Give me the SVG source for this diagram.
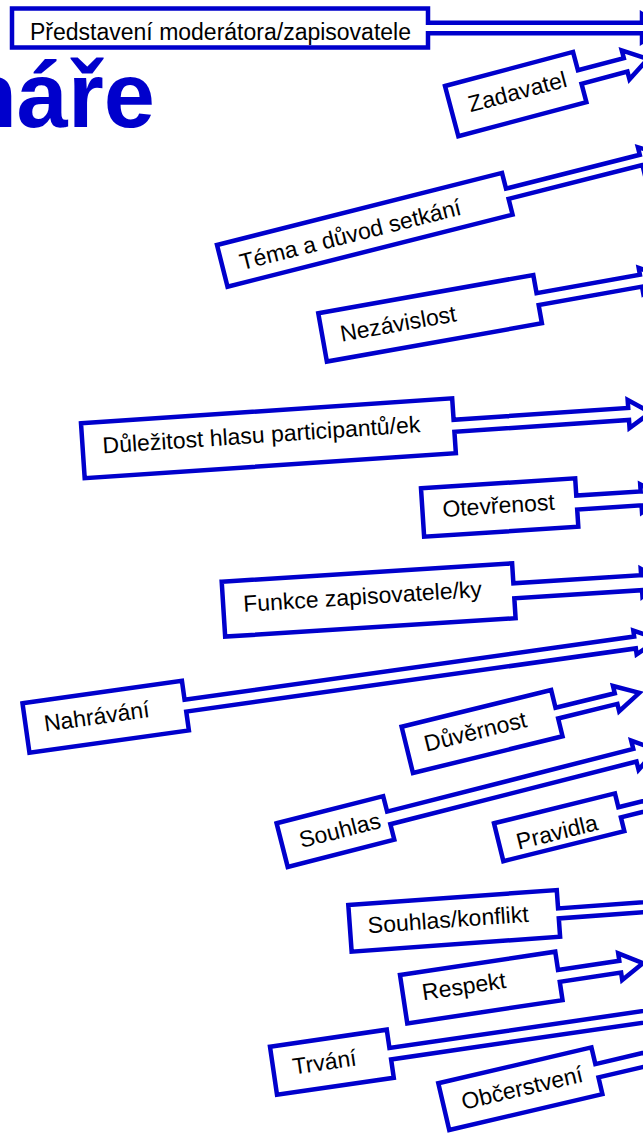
<svg xmlns="http://www.w3.org/2000/svg" width="643" height="1133" viewBox="0 0 643 1133">
<style>
.co{fill:#fff;stroke:#0000CC;stroke-width:4.5;stroke-linejoin:miter}
.lb{font-family:"Liberation Sans",Arial,sans-serif;font-size:23px;fill:#000}
.title{font-family:"Liberation Sans",Arial,sans-serif;font-weight:bold;font-size:92px;fill:#0000CC}
</style>
<rect width="643" height="1133" fill="#fff"/>
<text class="title" x="155" y="127" text-anchor="end">náře</text>

<g id="n-predstaveni" transform="translate(12,8.5)">
<polygon class="co" points="0,0 416,0 416,14.25 630,14.25 630,5.5 652,19.5 630,33.5 630,24.75 416,24.75 416,39 0,39"/>
<text class="lb" x="18" y="31.5">Představení moderátora/zapisovatele</text>
</g>
<g id="n-zadavatel" transform="translate(445,86) rotate(-14.9)">
<polygon class="co" points="0,0 132.5,0 132.5,19 180,19 180,11 203,26 180,41 180,33 132.5,33 132.5,52 0,52"/>
<text class="lb" x="18" y="32">Zadavatel</text>
</g>
<g id="n-tema" transform="translate(217,245) rotate(-14.2)">
<polygon class="co" points="0,0 294,0 294,16.25 432,16.25 432,8.5 454,21.5 432,34.5 432,26.75 294,26.75 294,43 0,43"/>
<text class="lb" x="18" y="30.5">Téma a důvod setkání</text>
</g>
<g id="n-nezavislost" transform="translate(318.3,313.3) rotate(-10.1)">
<polygon class="co" points="0,0 218.4,0 218.4,18.5 323.4,18.5 323.4,11.5 345.4,24.5 323.4,37.5 323.4,30.5 218.4,30.5 218.4,49 0,49"/>
<text class="lb" x="18" y="32">Nezávislost</text>
</g>
<g id="n-dulezitost" transform="translate(81,423.3) rotate(-3.85)">
<polygon class="co" points="0,0 372,0 372,21.5 547,21.5 547,13.5 569,27.5 547,41.5 547,33.5 372,33.5 372,55 0,55"/>
<text class="lb" x="20" y="31.5">Důležitost hlasu participantů/ek</text>
</g>
<g id="n-otevrenost" transform="translate(421,488.3) rotate(-3.7)">
<polygon class="co" points="0,0 154.5,0 154.5,17.25 219,17.25 219,10.25 241,24.25 219,38.25 219,31.25 154.5,31.25 154.5,48.5 0,48.5"/>
<text class="lb" x="20" y="30">Otevřenost</text>
</g>
<g id="n-funkce" transform="translate(221.7,581.7) rotate(-3.62)">
<polygon class="co" points="0,0 291,0 291,20 419,20 419,13.5 441,27.5 419,41.5 419,35 291,35 291,55 0,55"/>
<text class="lb" x="20" y="31.5">Funkce zapisovatele/ky</text>
</g>
<g id="n-nahravani" transform="translate(22.5,703.3) rotate(-8)">
<polygon class="co" points="0,0 161,0 161,19 615,19 615,13 639,25 615,37 615,31 161,31 161,50 0,50"/>
<text class="lb" x="18.5" y="31.2">Nahrávání</text>
</g>
<g id="n-duvernost" transform="translate(401.6,726.7) rotate(-13.8)">
<polygon class="co" points="0,0 154,0 154,18.35 215,18.35 215,10.85 239,23.85 215,36.85 215,29.35 154,29.35 154,47.7 0,47.7"/>
<text class="lb" x="18" y="30.2">Důvěrnost</text>
</g>
<g id="n-souhlas" transform="translate(276.6,823.3) rotate(-14.3)">
<polygon class="co" points="0,0 110,0 110,16 364,16 364,7.5 386,22.5 364,37.5 364,29 110,29 110,45 0,45"/>
<text class="lb" x="18" y="30.2">Souhlas</text>
</g>
<g id="n-pravidla" transform="translate(494,823.3) rotate(-13.9)">
<polygon class="co" points="0,0 124.6,0 124.6,14.25 224.6,14.25 224.6,5.5 246.6,19.5 224.6,33.5 224.6,24.75 124.6,24.75 124.6,39 0,39"/>
<text class="lb" x="17.5" y="31.5">Pravidla</text>
</g>
<g id="n-souhlas-konflikt" transform="translate(348.3,905) rotate(-4.1)">
<polygon class="co" points="0,0 209,0 209,18.4 359,18.4 359,9.4 381,23.4 359,37.4 359,28.4 209,28.4 209,46.8 0,46.8"/>
<text class="lb" x="18" y="29.6">Souhlas/konflikt</text>
</g>
<g id="n-respekt" transform="translate(400,975) rotate(-8.55)">
<polygon class="co" points="0,0 157,0 157,18.5 219,18.5 219,11 242,24.5 219,38 219,30.5 157,30.5 157,49 0,49"/>
<text class="lb" x="19.3" y="28.5">Respekt</text>
</g>
<g id="n-trvani" transform="translate(270,1046.7) rotate(-8.3)">
<polygon class="co" points="0,0 118,0 118,18.55 418,18.55 418,10.3 440,24.3 418,38.3 418,30.05 118,30.05 118,48.6 0,48.6"/>
<text class="lb" x="19.5" y="31">Trvání</text>
</g>
<g id="n-obcerstveni" transform="translate(438.3,1083.3) rotate(-13.2)">
<polygon class="co" points="0,0 157.3,0 157.3,17.15 257.3,17.15 257.3,10 279.3,24 257.3,38 257.3,30.85 157.3,30.85 157.3,48 0,48"/>
<text class="lb" x="18.5" y="31.5">Občerstvení</text>
</g>
</svg>
